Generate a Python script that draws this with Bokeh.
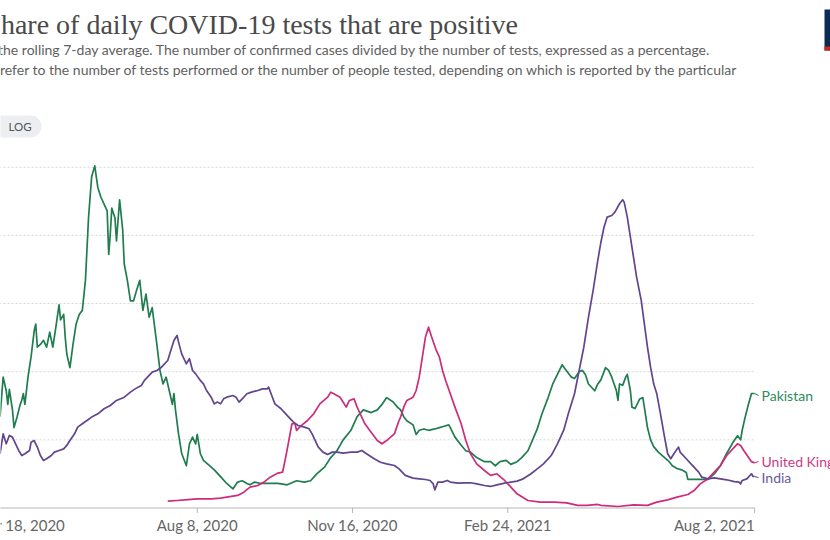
import pandas as pd
from bokeh.plotting import figure
from bokeh.models import Range1d
from bokeh.core.properties import value
from bokeh.embed import file_html
from bokeh.resources import INLINE

# ---------------- data ----------------
START_DATE = "2020-03-18"   # day 0 of the day-offset arrays below

TITLE = "The share of daily COVID-19 tests that are positive"
SUBTITLE_1 = ("Shown is the rolling 7-day average. The number of confirmed cases divided by the "
              "number of tests, expressed as a percentage.")
SUBTITLE_2 = ("Tests may refer to the number of tests performed or the number of people tested, "
              "depending on which is reported by the particular")

TICK_DATES = ["2020-03-18", "2020-08-08", "2020-11-16", "2021-02-24", "2021-08-02"]
TICK_LABELS = ["Mar 18, 2020", "Aug 8, 2020", "Nov 16, 2020", "Feb 24, 2021", "Aug 2, 2021"]
GRID_VALUES = [5, 10, 15, 20, 25]

SERIES_NAMES = ["Pakistan", "United Kingdom", "India"]

PAK_DAY = [16, 18, 20, 21, 22, 24, 25, 27, 29, 30, 31, 32, 34, 36, 38, 39, 40, 42, 44, 46,
           48, 50, 52, 54, 55, 57, 58, 59, 61, 63, 65, 67, 69, 71, 73, 75, 77, 79, 81, 83,
           85, 86, 87, 88, 90, 91, 93, 95, 96, 98, 100, 102, 104, 106, 108, 110, 112, 114, 115, 117,
           119, 121, 123, 125, 127, 128, 129, 131, 133, 136, 138, 140, 142, 143, 145, 147, 150, 154, 158, 162,
           166, 169, 172, 175, 177, 180, 184, 188, 195, 201, 207, 212, 216, 220, 225, 229, 233, 237, 242, 246,
           250, 255, 259, 262, 265, 269, 272, 274, 276, 278, 282, 284, 286, 289, 292, 296, 299, 302, 305, 306,
           309, 313, 316, 319, 323, 328, 332, 335, 338, 342, 345, 349, 352, 356, 359, 362, 365, 369, 372, 375,
           378, 380, 384, 386, 389, 391, 393, 395, 399, 401, 403, 406, 408, 410, 413, 414, 415, 417, 419, 420,
           422, 423, 425, 428, 430, 431, 433, 435, 437, 440, 444, 447, 449, 452, 455, 458, 459, 463, 467, 472,
           476, 480, 484, 488, 491, 493, 494, 496, 498, 500, 502]
PAK_PCT = [6.7, 9.6, 8.6, 7.6, 8.7, 7.2, 5.9, 6.7, 7.6, 7.9, 8.4, 7.6, 9.6, 11.1, 13.0, 13.5, 11.8, 12.0, 12.3, 11.8,
           12.9, 11.8, 13.3, 14.9, 13.8, 14.2, 12.5, 11.3, 10.3, 12.0, 13.5, 14.2, 14.5, 16.7, 21.3, 24.3, 25.1, 23.5, 22.8, 22.3,
           21.8, 18.6, 20.1, 22.0, 21.3, 19.6, 22.6, 20.4, 17.9, 16.7, 15.2, 15.2, 16.0, 16.7, 14.5, 15.7, 14.0, 14.7, 13.8, 12.0,
           10.1, 9.1, 9.6, 8.6, 7.6, 8.4, 7.2, 5.4, 4.0, 3.1, 4.7, 5.2, 4.7, 5.4, 4.0, 3.5, 3.2, 2.8, 2.3, 1.8,
           1.4, 1.9, 2.0, 1.8, 1.7, 1.9, 1.8, 1.8, 1.8, 1.7, 2.0, 1.9, 2.0, 2.5, 3.0, 3.7, 4.2, 5.0, 5.7, 6.7,
           7.2, 7.0, 7.2, 7.6, 8.1, 7.8, 7.4, 7.2, 6.7, 6.4, 6.1, 5.4, 5.7, 5.8, 5.7, 5.8, 5.9, 6.0, 6.1, 5.9,
           5.2, 4.6, 4.2, 4.1, 3.7, 3.4, 3.4, 3.1, 3.4, 3.5, 3.2, 3.4, 3.7, 4.2, 5.0, 5.8, 6.9, 8.1, 9.1, 9.8,
           10.5, 10.2, 9.6, 9.5, 10.0, 10.1, 9.8, 9.1, 8.6, 9.1, 9.4, 10.3, 10.1, 9.6, 8.6, 7.9, 9.1, 9.0, 9.6, 9.8,
           8.6, 7.4, 7.3, 8.0, 8.1, 7.4, 5.9, 5.0, 4.5, 4.1, 3.7, 3.4, 3.1, 2.9, 2.8, 2.6, 2.1, 2.1, 2.1, 2.1,
           2.5, 3.1, 4.0, 4.8, 5.3, 5.0, 5.7, 6.7, 7.6, 8.4, 8.4]

UK_DAY = [124, 130, 137, 143, 145, 152, 158, 164, 169, 173, 177, 182, 186, 190, 195, 198, 200, 202, 204, 206,
          207, 210, 214, 218, 222, 227, 229, 231, 235, 239, 241, 244, 246, 248, 251, 255, 259, 262, 265, 270,
          273, 274, 276, 278, 282, 284, 286, 288, 290, 292, 294, 297, 299, 301, 303, 306, 309, 313, 316, 319,
          323, 328, 332, 336, 341, 345, 349, 356, 364, 373, 381, 388, 394, 401, 403, 414, 424, 433, 439, 446,
          452, 459, 463, 467, 472, 476, 480, 484, 489, 491, 493, 495, 498, 500, 502]
UK_PCT = [0.50, 0.55, 0.62, 0.67, 0.67, 0.67, 0.72, 0.84, 0.92, 1.16, 1.53, 1.65, 1.90, 2.26, 2.56, 2.63, 3.73, 4.95, 6.18, 6.18,
          5.69, 6.05, 6.42, 6.91, 7.64, 8.13, 8.50, 8.38, 8.13, 7.40, 7.89, 8.01, 7.40, 6.91, 6.18, 5.56, 4.95, 4.71, 4.95, 5.44,
          6.42, 6.67, 7.40, 7.89, 8.13, 8.62, 9.60, 11.07, 12.54, 13.27, 12.54, 11.56, 11.07, 10.09, 9.36, 8.38, 7.40, 6.18, 4.95, 3.98,
          3.24, 2.75, 2.39, 2.51, 2.02, 1.53, 1.04, 0.55, 0.43, 0.43, 0.38, 0.19, 0.19, 0.26, 0.19, 0.11, 0.23, 0.19, 0.43, 0.60,
          0.80, 0.99, 1.28, 1.77, 2.14, 2.63, 3.12, 3.85, 4.47, 4.71, 4.59, 4.22, 3.73, 3.40, 3.31]

IND_DAY = [16, 17, 18, 20, 22, 24, 26, 28, 30, 32, 35, 36, 38, 40, 42, 44, 46, 49, 51, 54,
           57, 59, 61, 64, 66, 69, 72, 75, 79, 83, 87, 91, 96, 100, 103, 107, 109, 111, 114, 117,
           120, 124, 126, 128, 130, 131, 133, 136, 138, 140, 142, 145, 147, 149, 152, 154, 156, 158, 160, 162,
           166, 168, 170, 172, 175, 178, 182, 185, 188, 189, 191, 193, 197, 200, 203, 205, 208, 212, 215, 217,
           219, 221, 224, 227, 230, 233, 237, 242, 246, 249, 252, 257, 261, 265, 270, 273, 277, 282, 286, 290,
           293, 295, 296, 298, 301, 304, 306, 311, 315, 319, 323, 328, 332, 336, 341, 345, 349, 353, 358, 362,
           366, 371, 375, 379, 382, 386, 389, 392, 395, 398, 401, 403, 405, 407, 410, 412, 415, 417, 418, 420,
           422, 424, 426, 429, 431, 433, 435, 437, 439, 441, 444, 446, 448, 450, 453, 454, 458, 461, 464, 466,
           468, 472, 476, 480, 484, 489, 492, 493, 494, 497, 500, 501, 502]
IND_PCT = [3.98, 4.71, 5.44, 4.71, 5.32, 5.20, 4.71, 4.22, 3.85, 3.98, 4.22, 4.83, 4.95, 4.47, 3.85, 3.49, 3.61, 3.85, 4.10, 4.22,
           4.34, 4.59, 4.95, 5.44, 5.93, 6.18, 6.42, 6.67, 6.91, 7.28, 7.52, 7.89, 8.13, 8.50, 8.74, 8.99, 9.36, 9.60, 9.97, 10.09,
           10.33, 10.82, 11.56, 12.29, 12.66, 12.17, 11.31, 10.58, 10.95, 10.09, 9.84, 9.36, 9.11, 8.62, 8.13, 7.64, 7.77, 7.64, 8.01, 8.13,
           8.25, 8.13, 7.77, 8.01, 8.38, 8.50, 8.62, 8.74, 8.74, 8.87, 8.25, 7.64, 7.28, 6.91, 6.54, 6.30, 6.05, 5.93, 5.81, 5.44,
           4.95, 4.47, 4.10, 3.93, 4.10, 4.10, 4.02, 4.10, 4.10, 4.22, 3.98, 3.61, 3.36, 3.24, 3.12, 2.87, 2.39, 2.19, 2.14, 2.09,
           2.02, 1.77, 1.33, 1.90, 1.90, 2.02, 1.90, 1.82, 1.85, 1.85, 1.77, 1.65, 1.58, 1.70, 1.82, 1.90, 1.97, 2.14, 2.51, 2.87,
           3.24, 3.85, 4.71, 5.69, 6.91, 8.38, 10.09, 11.80, 14.00, 15.96, 18.16, 19.50, 20.60, 21.34, 21.46, 21.71, 22.32, 22.61, 22.44, 21.34,
           19.87, 18.40, 16.94, 15.22, 13.51, 11.80, 10.33, 9.11, 8.38, 7.15, 5.20, 3.98, 3.61, 3.98, 4.47, 4.10, 3.61, 3.24, 2.87, 2.63,
           2.26, 2.14, 2.21, 2.14, 2.07, 1.94, 1.90, 1.77, 2.02, 2.14, 2.51, 2.31, 2.31]

# ---------------- styling / layout ----------------
W, H = 830, 540
PX_PER_DAY = 1.5526      # horizontal scale of the reference
START_PX = -25.3         # where the first date sits (cropped off to the left)
PX_PER_PCT = 13.63       # vertical scale of the reference
ZERO_PX = 507.5          # y pixel of the 0 % baseline

LINE_COLORS = ["#1f7d4f", "#cc2c7c", "#61458f"]
LABEL_COLORS = ["#2f8a5d", "#c93b86", "#6b5a9c"]

start = pd.Timestamp(START_DATE)


def ms(ts):
    return pd.Timestamp(ts).value / 1e6


def day_to_ms(days):
    return [ms(start + pd.Timedelta(days=d)) for d in days]


def X(px):   # canvas pixel -> data x (ms)
    return ms(start + pd.Timedelta(days=(px - START_PX) / PX_PER_DAY))


def Y(py):   # canvas pixel -> data y (%)
    return (ZERO_PX - py) / PX_PER_PCT


p = figure(width=W, height=H, output_backend="svg", toolbar_location=None,
           x_axis_location=None, y_axis_location=None,
           x_range=Range1d(X(0), X(W)), y_range=Range1d(Y(H), Y(0)),
           min_border=0, outline_line_color=None,
           background_fill_color="white", border_fill_color="white")
p.xgrid.visible = False
p.ygrid.visible = False

FONT = value("Lato")
last_day = ms(TICK_DATES[-1])

# gridlines
p.segment(x0=[X(-5)] * len(GRID_VALUES), x1=[last_day] * len(GRID_VALUES),
          y0=GRID_VALUES, y1=GRID_VALUES, line_color="#d6d6d6", line_width=1,
          line_dash="2 2")
# baseline and ticks
p.segment(x0=[X(-5)], x1=[last_day], y0=[0], y1=[0], line_color="#b5b5b5", line_width=1)
tick_x = [ms(d) for d in TICK_DATES]
p.segment(x0=tick_x, x1=tick_x, y0=[0] * len(tick_x), y1=[Y(ZERO_PX + 5)] * len(tick_x),
          line_color="#b5b5b5", line_width=1)
# tick labels (first left-aligned, last right-aligned as in the reference)
aligns = ["left"] + ["center"] * (len(TICK_LABELS) - 2) + ["right"]
for tx, lab, al in zip(tick_x, TICK_LABELS, aligns):
    p.text(x=[tx], y=[Y(524)], text=[lab], text_align=al, text_baseline="middle",
           text_font=FONT, text_font_size="15px", text_color="#666666")

# series
series = [(PAK_DAY, PAK_PCT), (UK_DAY, UK_PCT), (IND_DAY, IND_PCT)]
for (days, pct), col in zip(series, LINE_COLORS):
    p.line(x=day_to_ms(days), y=pct, line_color=col, line_width=1.7, line_join="round")

label_y = [Y(395), Y(461), Y(477)]
for name, (days, pct), lc, tc, ly in zip(SERIES_NAMES, series, LINE_COLORS, LABEL_COLORS, label_y):
    xe = day_to_ms([days[-1]])[0]
    p.segment(x0=[xe], x1=[X(758)], y0=[pct[-1]], y1=[ly], line_color=lc, line_width=1)
    p.text(x=[X(761)], y=[ly], text=[name], text_align="left", text_baseline="middle",
           text_font=FONT, text_font_size="14px", text_color=tc)

# header
p.text(x=[X(-61)], y=[Y(24)], text=[TITLE], text_align="left", text_baseline="alphabetic",
       text_font=value("Liberation Serif"), text_font_size="28px", text_color="#4a4a4a")
p.text(x=[X(-61), X(-64)], y=[Y(49), Y(69)], text=[SUBTITLE_1, SUBTITLE_2],
       text_align="left", text_baseline="alphabetic",
       text_font=FONT, text_font_size="14px", text_color="#5f5f5f")

# LOG toggle button
p.quad(left=[X(-45)], right=[X(41)], top=[Y(115)], bottom=[Y(137)],
       fill_color="#eceef1", line_color=None, border_radius=11)
p.text(x=[X(8)], y=[Y(126)], text=["LOG"], text_align="left", text_baseline="middle",
       text_font=FONT, text_font_size="11.5px", text_color="#555555")

# logo corner
p.quad(left=[X(824)], right=[X(832)], top=[Y(9)], bottom=[Y(50)],
       fill_color="#0b2a54", line_color=None)
p.quad(left=[X(824)], right=[X(832)], top=[Y(46)], bottom=[Y(50)],
       fill_color="#ce261e", line_color=None)

open("out.html", "w").write(file_html(p, INLINE))
